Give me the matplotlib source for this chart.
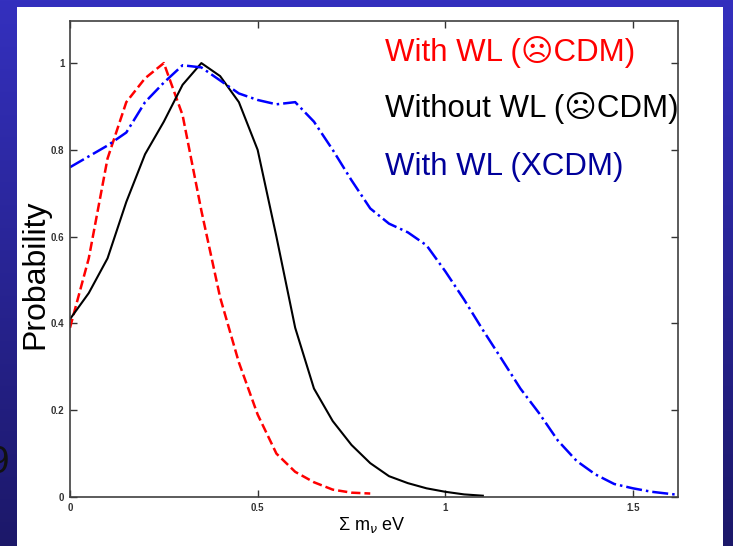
import matplotlib
matplotlib.use('Agg')

import matplotlib.pyplot as plt
import numpy as np
from matplotlib.patches import Rectangle

plt.rcParams['font.family'] = ['Liberation Sans', 'DejaVu Sans']

# data
x_red = [0, 0.05, 0.1, 0.15, 0.2, 0.25, 0.3, 0.35, 0.4, 0.45, 0.5, 0.55, 0.6, 0.65, 0.7, 0.75, 0.8]
y_red = [0.39, 0.55, 0.78, 0.91, 0.965, 1.0, 0.88, 0.66, 0.46, 0.31, 0.19, 0.10, 0.058, 0.034, 0.017, 0.01, 0.008]

x_black = [0, 0.05, 0.1, 0.15, 0.2, 0.25, 0.3, 0.35, 0.4, 0.45, 0.5, 0.55, 0.6, 0.65,
           0.7, 0.75, 0.8, 0.85, 0.9, 0.95, 1.0, 1.05, 1.1]
y_black = [0.41, 0.47, 0.55, 0.68, 0.79, 0.865, 0.95, 1.0, 0.97, 0.91, 0.80, 0.60, 0.39, 0.25,
           0.175, 0.12, 0.078, 0.048, 0.032, 0.02, 0.012, 0.006, 0.003]

x_blue = [0, 0.05, 0.1, 0.15, 0.2, 0.25, 0.3, 0.35, 0.4, 0.45, 0.5, 0.55, 0.6, 0.65, 0.7, 0.75,
          0.8, 0.85, 0.9, 0.95, 1.0, 1.05, 1.1, 1.15, 1.2, 1.25, 1.3, 1.35, 1.4, 1.45, 1.5, 1.55, 1.62]
y_blue = [0.76, 0.785, 0.81, 0.84, 0.91, 0.955, 0.995, 0.99, 0.96, 0.93, 0.915, 0.905, 0.91, 0.865,
          0.80, 0.73, 0.665, 0.63, 0.61, 0.58, 0.52, 0.455, 0.385, 0.318, 0.25, 0.193, 0.13, 0.083,
          0.052, 0.03, 0.02, 0.012, 0.005]

labels = ['With WL (\u2639CDM)', 'Without WL (\u2639CDM)', 'With WL (XCDM)']
label_colors = ['#ff0000', '#000000', '#00009a']

fig = plt.figure(figsize=(7.33, 5.46), dpi=100)

# slide background: blue gradient with white panel
bg = fig.add_axes([0, 0, 1, 1])
top = np.array([52, 48, 190]) / 255.
bot = np.array([28, 24, 105]) / 255.
t = np.linspace(0, 1, 256)[:, None]
grad = (top * (1 - t) + bot * t)[:, None, :]
bg.imshow(grad, aspect='auto', extent=[0, 1, 0, 1])
bg.add_patch(Rectangle((17 / 733, 0), (723 - 17) / 733, 1 - 7 / 546, facecolor='white', edgecolor='none'))
bg.set_xlim(0, 1)
bg.set_ylim(0, 1)
bg.axis('off')

# slide number peeking out at the left edge
fig.text(9 / 733, 1 - 463 / 546, '9', fontsize=28, ha='right', va='center', color='#111111')

ax = fig.add_axes([70 / 733, 1 - 497 / 546, 608 / 733, 476 / 546])
ax.plot(x_red, y_red, color='#ff0000', linestyle='--', linewidth=1.8)
ax.plot(x_black, y_black, color='black', linestyle='-', linewidth=1.5)
ax.plot(x_blue, y_blue, color='#0000ff', linestyle='-.', linewidth=1.8)

ax.set_xlim(0, 1.62)
ax.set_ylim(0, 1.097)
ax.set_xticks([0, 0.5, 1, 1.5])
ax.set_xticklabels(['0', '0.5', '1', '1.5'])
ax.set_yticks([0, 0.2, 0.4, 0.6, 0.8, 1])
ax.set_yticklabels(['0', '0.2', '0.4', '0.6', '0.8', '1'])
ax.tick_params(direction='in', length=5, width=1, top=True, right=True,
               labelsize=7, colors='#333333', pad=4)
for lab in ax.get_xticklabels() + ax.get_yticklabels():
    lab.set_fontweight('bold')
for s in ax.spines.values():
    s.set_color('#404040')
    s.set_linewidth(1.2)

fig.text(372 / 733, 1 - 525 / 546, '\u03a3 m$_\\nu$ eV', fontsize=13, ha='center', va='center')
fig.text(35 / 733, 1 - 274 / 546, 'Probability', fontsize=23, rotation=90, ha='center', va='center')

ys = [52, 108, 167]
for lab, c, yy in zip(labels, label_colors, ys):
    fig.text(385 / 733, 1 - yy / 546, lab, fontsize=22.5, color=c, ha='left', va='center')

fig.savefig('out.png', dpi=100)
